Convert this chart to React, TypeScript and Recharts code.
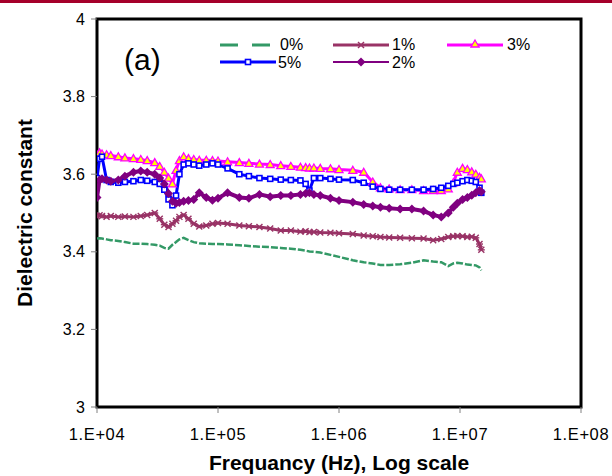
import {
  LineChart,
  Line,
  XAxis,
  YAxis,
  ReferenceArea,
} from 'recharts';

// frequency in Hz (log axis)
const freq = [
  10000, 10500, 11000, 12000, 13000, 15000, 17000, 20000, 23000, 26000,
  30000, 33000, 36000, 39000, 42000, 45000, 48000, 52000, 57000, 63000,
  70000, 80000, 90000, 100000, 120000, 150000, 180000, 220000, 270000, 330000,
  400000, 480000, 530000, 570000, 620000, 700000, 850000, 1000000, 1300000, 1600000,
  1900000, 2200000, 2600000, 3200000, 4000000, 5000000, 6000000, 7000000, 8000000, 8800000,
  9500000, 10500000, 11500000, 12500000, 13500000, 14500000, 15000000,
];

const pct0 = [
  3.434, 3.435, 3.434, 3.432, 3.43, 3.428, 3.425, 3.421, 3.421, 3.42,
  3.418, 3.416, 3.41, 3.408, 3.418, 3.425, 3.432, 3.436, 3.43, 3.425,
  3.422, 3.421, 3.42, 3.42, 3.419, 3.417, 3.415, 3.413, 3.412, 3.41,
  3.408, 3.405, 3.403, 3.401, 3.4, 3.398, 3.392, 3.387, 3.378, 3.373,
  3.37, 3.366, 3.366, 3.368, 3.372, 3.378, 3.375, 3.373, 3.363, 3.37,
  3.372, 3.37, 3.367, 3.366, 3.365, 3.36, 3.352,
];

const pct1 = [
  3.492, 3.494, 3.492, 3.49, 3.492, 3.49, 3.491, 3.49, 3.492, 3.495,
  3.5, 3.485, 3.47, 3.464, 3.472, 3.48, 3.49, 3.495, 3.485, 3.472,
  3.465, 3.468, 3.472, 3.474, 3.472, 3.468, 3.466, 3.464, 3.46, 3.455,
  3.455, 3.452, 3.453, 3.451, 3.451, 3.45, 3.449, 3.448, 3.446, 3.442,
  3.44, 3.438, 3.437, 3.436, 3.435, 3.434, 3.43, 3.433, 3.438, 3.44,
  3.441, 3.44, 3.438, 3.439, 3.436, 3.42, 3.405,
];

const pct2 = [
  3.54, 3.585, 3.588, 3.585, 3.582, 3.585, 3.595, 3.605, 3.608, 3.605,
  3.6, 3.59, 3.575, 3.55, 3.53, 3.525, 3.527, 3.53, 3.532, 3.535,
  3.552, 3.54, 3.533, 3.538, 3.552, 3.54, 3.538, 3.548, 3.542, 3.545,
  3.545, 3.548, 3.55, 3.552, 3.548, 3.545, 3.538, 3.532, 3.528, 3.522,
  3.518, 3.515, 3.512, 3.51, 3.51, 3.505, 3.495, 3.49, 3.5, 3.515,
  3.525, 3.535, 3.54, 3.546, 3.552, 3.558, 3.555,
];

const pct3 = [
  3.65, 3.655, 3.652, 3.65, 3.648, 3.645, 3.642, 3.64, 3.638, 3.635,
  3.63, 3.62, 3.605, 3.59, 3.575, 3.61, 3.635, 3.645, 3.64, 3.638,
  3.636, 3.636, 3.635, 3.634, 3.632, 3.63, 3.628, 3.626, 3.625, 3.622,
  3.62, 3.618, 3.617, 3.616, 3.616, 3.615, 3.614, 3.612, 3.61, 3.605,
  3.58, 3.565, 3.562, 3.56, 3.56, 3.558, 3.558, 3.558, 3.562, 3.578,
  3.605, 3.615, 3.612, 3.606, 3.6, 3.592, 3.588,
];

const pct5 = [
  3.59, 3.64, 3.645, 3.585, 3.58, 3.578, 3.58, 3.582, 3.585, 3.583,
  3.58, 3.575, 3.56, 3.535, 3.52, 3.545, 3.6, 3.625, 3.628, 3.625,
  3.622, 3.625, 3.628, 3.625, 3.615, 3.6, 3.595, 3.59, 3.588, 3.586,
  3.585, 3.584, 3.575, 3.558, 3.59, 3.59, 3.588, 3.586, 3.585, 3.578,
  3.568, 3.562, 3.56, 3.56, 3.56, 3.56, 3.562, 3.565, 3.57, 3.575,
  3.578, 3.582, 3.585, 3.583, 3.58, 3.565, 3.552,
];

const xTicks = [1e4, 1e5, 1e6, 1e7, 1e8];
const yTicks = [3, 3.2, 3.4, 3.6, 3.8, 4];

const data = freq.map((f, i) => ({
  f,
  p0: pct0[i],
  p1: pct1[i],
  p2: pct2[i],
  p3: pct3[i],
  p5: pct5[i],
}));

const FONT = '"Liberation Sans", Arial, sans-serif';

const C0 = '#339966';
const C1 = '#993366';
const C2 = '#800080';
const C3 = '#FF00FF';
const C5 = '#0000FF';

// markers
const star = (cx: number, cy: number, k?: string) => (
  <g key={k} stroke={C1} strokeWidth={1.4}>
    <line x1={cx - 3.5} y1={cy} x2={cx + 3.5} y2={cy} />
    <line x1={cx - 3} y1={cy - 3} x2={cx + 3} y2={cy + 3} />
    <line x1={cx - 3} y1={cy + 3} x2={cx + 3} y2={cy - 3} />
  </g>
);
const tri = (cx: number, cy: number, k?: string) => (
  <polygon
    key={k}
    points={`${cx},${cy - 4} ${cx - 4},${cy + 3} ${cx + 4},${cy + 3}`}
    fill="#FFFF00"
    stroke={C3}
    strokeWidth={1.3}
  />
);
const sq = (cx: number, cy: number, k?: string) => (
  <rect key={k} x={cx - 2.5} y={cy - 2.5} width={5} height={5} fill="#fff" stroke={C5} strokeWidth={1.6} />
);
const dia = (cx: number, cy: number, k?: string) => (
  <polygon key={k} points={`${cx},${cy - 4.5} ${cx + 4.5},${cy} ${cx},${cy + 4.5} ${cx - 4.5},${cy}`} fill={C2} />
);

const dotOf = (fn: (cx: number, cy: number, k?: string) => any) => (p: any) => {
  if (p.cx == null || p.cy == null) return <g key={p.key} />;
  return fn(p.cx, p.cy, `${p.dataKey}-${p.index}`);
};

const fmtX = (v: number) => '1.E+' + String(Math.round(Math.log10(v))).padStart(2, '0');
const fmtY = (v: number) => (v === 3 || v === 4 ? String(v) : v.toFixed(1));

function ChartLegend() {
  return (
    <svg width={612} height={80} style={{ position: 'absolute', left: 0, top: 0 }}>
      <g fontFamily={FONT} fontSize={16} fill="#000">
        <line x1={220} y1={45} x2={270} y2={45} stroke={C0} strokeWidth={3} strokeDasharray="18 14" />
        <text x={280} y={50}>0%</text>
        <line x1={333} y1={45} x2={389} y2={45} stroke={C1} strokeWidth={3} />
        {star(361, 45)}
        <text x={392} y={50}>1%</text>
        <line x1={447} y1={45} x2={503} y2={45} stroke={C3} strokeWidth={3} />
        {tri(475, 44)}
        <text x={507} y={50}>3%</text>
        <line x1={220} y1={62} x2={276} y2={62} stroke={C5} strokeWidth={3} />
        {sq(248, 62)}
        <text x={278} y={68}>5%</text>
        <line x1={333} y1={62} x2={389} y2={62} stroke={C2} strokeWidth={2} />
        {dia(361, 62)}
        <text x={392} y={68}>2%</text>
      </g>
    </svg>
  );
}

export default function App() {
  return (
    <div style={{ position: 'fixed', left: 0, top: 0, width: 612, height: 476, background: '#fff', overflow: 'hidden' }}>
      <div style={{ position: 'absolute', left: 0, top: 0, width: 612, height: 3, background: '#A5002A' }} />
      <LineChart
        width={612}
        height={476}
        data={data}
        margin={{ top: 19, right: 31, left: 0, bottom: 0 }}
        style={{ fontFamily: FONT }}
      >
        <XAxis
          dataKey="f"
          type="number"
          scale="log"
          domain={[1e4, 1e8]}
          ticks={xTicks}
          tickFormatter={fmtX}
          allowDataOverflow
          height={69}
          axisLine={false}
          tickSize={6}
          tickMargin={15}
          tickLine={{ stroke: '#808080' }}
          tick={{ fill: '#000', fontSize: 16.5, fontFamily: FONT, letterSpacing: 0.6 }}
          label={{
            value: 'Frequancy (Hz), Log scale',
            position: 'insideBottom',
            offset: 6,
            style: { fontSize: 21, fontWeight: 'bold', fill: '#000', fontFamily: FONT },
          }}
        />
        <YAxis
          type="number"
          domain={[3, 4]}
          ticks={yTicks}
          tickFormatter={fmtY}
          width={97}
          axisLine={false}
          tickSize={6}
          tickMargin={6}
          tickLine={{ stroke: '#808080' }}
          tick={{ fill: '#000', fontSize: 16, fontFamily: FONT }}
          label={{
            value: 'Dielectric constant',
            angle: -90,
            position: 'insideLeft',
            offset: 25,
            style: { textAnchor: 'middle', fontSize: 21, fontWeight: 'bold', fill: '#000', fontFamily: FONT },
          }}
        />
        <ReferenceArea x1={1e4} x2={1e8} y1={3} y2={4} fill="none" stroke="#000" strokeWidth={3} ifOverflow="visible" />
        <Line
          dataKey="p0"
          name="0%"
          stroke={C0}
          strokeWidth={2.5}
          strokeDasharray="7 2"
          dot={false}
          isAnimationActive={false}
        />
        <Line
          dataKey="p1"
          name="1%"
          stroke={C1}
          strokeWidth={3}
          dot={dotOf(star)}
          isAnimationActive={false}
        />
        <Line
          dataKey="p3"
          name="3%"
          stroke={C3}
          strokeWidth={3}
          dot={dotOf(tri)}
          isAnimationActive={false}
        />
        <Line
          dataKey="p5"
          name="5%"
          stroke={C5}
          strokeWidth={3}
          dot={dotOf(sq)}
          isAnimationActive={false}
        />
        <Line
          dataKey="p2"
          name="2%"
          stroke={C2}
          strokeWidth={4}
          dot={dotOf(dia)}
          isAnimationActive={false}
        />
      </LineChart>
      <ChartLegend />
      <div
        style={{ position: 'absolute', left: 124, top: 43, fontFamily: FONT, fontSize: 30, lineHeight: '34px', color: '#000' }}
      >
        (a)
      </div>
    </div>
  );
}
